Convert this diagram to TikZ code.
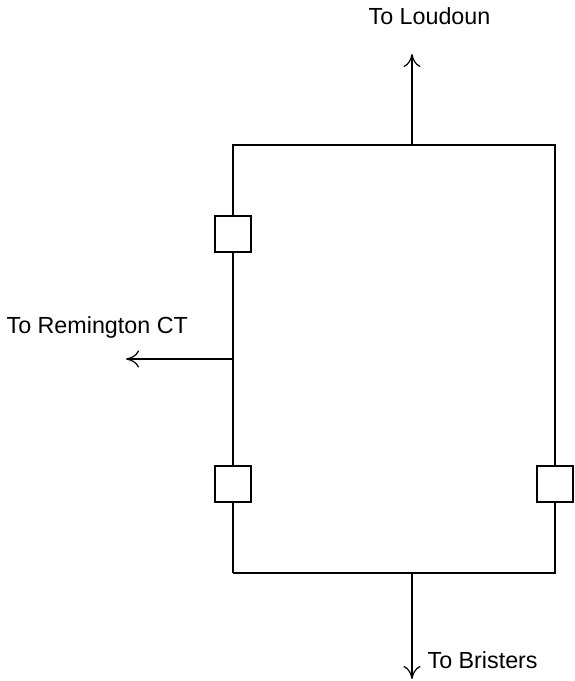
\documentclass[tikz,border=0pt]{standalone}
\usepackage{fontspec}
\setmainfont{Liberation Sans}
\usetikzlibrary{arrows.meta}

\begin{document}
\begin{tikzpicture}[x=1pt,y=1pt,line width=1.2pt]
\tikzstyle{breaker}=[draw,fill=white,minimum size=36pt,inner sep=0pt]
\tikzstyle{lbl}=[inner sep=0pt,anchor=base west,font=\fontsize{23.3}{28}\selectfont]
\tikzstyle{feed}=[-{Computer Modern Rightarrow[length=13pt,width=17pt]}]
\useasboundingbox (0,0) rectangle (575,-681);
% bus corners and taps
\coordinate (tl) at (233,-145);
\coordinate (tr) at (555,-145);
\coordinate (bl) at (233,-573);
\coordinate (br) at (555,-573);
\coordinate (topTap) at (412,-145);
\coordinate (botTap) at (412,-573);
\coordinate (tee) at (233,-359);
% feeder ends
\coordinate (toLoud) at (412,-54);
\coordinate (toRem) at (126,-359);
\coordinate (toBris) at (412,-679);
% breakers
\node [breaker] (cb1) at (233,-234) {};
\node [breaker] (cb2) at (233,-484) {};
\node [breaker] (cb3) at (555,-484) {};
% ring
\draw (bl) -- (cb2.south);
\draw (cb2.north) -- (tee) -- (cb1.south);
\draw (cb1.north) -- (tl) -- (tr) -- (cb3.north);
\draw (cb3.south) -- (br) -- (bl);
% feeders
\draw [feed] (topTap) -- (toLoud);
\draw [feed] (tee) -- (toRem);
\draw [feed] (botTap) -- (toBris);
\node [lbl] (loudoun) at (368,-24) {To Loudoun};
\node [lbl] (remington) at (6,-333) {To Remington CT};
\node [lbl] (bristers) at (427,-668) {To Bristers};
\end{tikzpicture}
\end{document}
